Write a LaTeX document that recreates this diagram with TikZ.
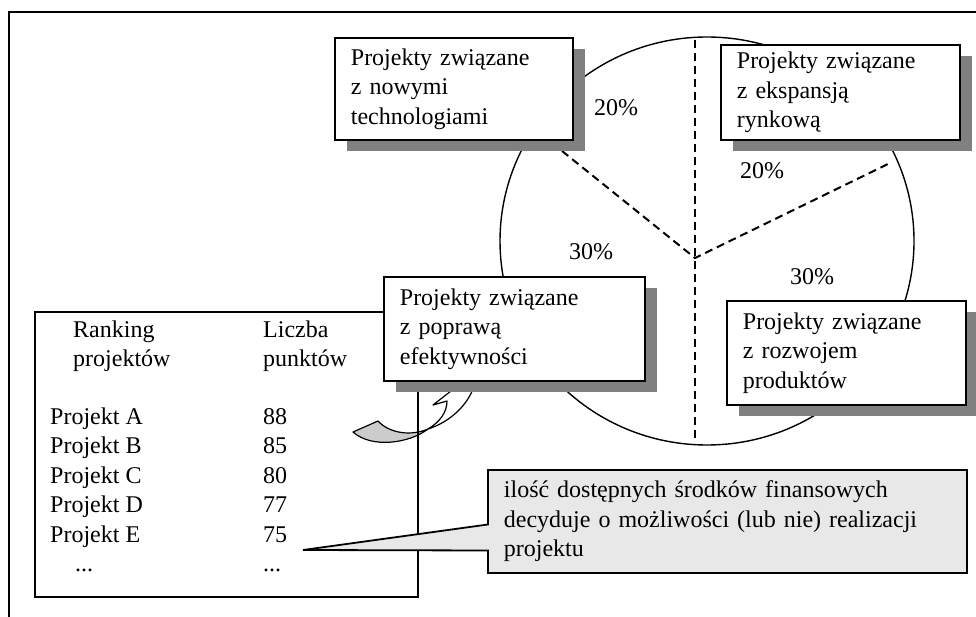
\documentclass[tikz,border=0pt]{standalone}
\usepackage{fontspec}
\setmainfont{Liberation Serif}
\usetikzlibrary{positioning,shadows,shapes.callouts}
\definecolor{cien}{RGB}{128,128,128}
\definecolor{tlo}{RGB}{232,232,232}
\definecolor{szary}{RGB}{204,204,204}

\begin{document}
\begin{tikzpicture}[x=1pt, y=-1pt,
  font=\fontsize{24}{29.5}\selectfont,
  ramka/.style={draw, line width=1.8pt, fill=white, anchor=north west,
                inner xsep=16pt, inner ysep=0pt, align=left,
                drop shadow={shadow xshift=12pt, shadow yshift=-11pt,
                             fill=cien, opacity=1}},
  procent/.style={inner sep=0pt},
  podzial/.style={line width=2pt, dash pattern=on 8pt off 5pt},
  wiersz/.style={anchor=base west, inner sep=0pt}]
  \useasboundingbox (0,0) rectangle (976,617);
  \draw[line width=2pt] (9,617) -- (9,12) -- (976,12);
  % kolo z podzialem
  \draw[line width=1.4pt] (707,241) ellipse [x radius=207, y radius=204];
  \coordinate (srodek) at (695,258);
  \coordinate (gora) at (695,40);
  \coordinate (dol) at (695,440);
  \coordinate (lewy) at (562,151);
  \coordinate (prawy) at (890,163);
  \draw[podzial] (gora) -- (srodek) -- (dol);
  \draw[podzial] (lewy) -- (srodek) -- (prawy);
  \node[procent] (p1) at (616,108) {20\%};
  \node[procent] (p2) at (762,171) {20\%};
  \node[procent] (p3) at (591,252) {30\%};
  \node[procent] (p4) at (812,277) {30\%};
  % zakrecona strzalka
  \draw[line width=1.2pt, fill=szary, line join=round]
    (353,432) -- (378,421) .. controls (390,434) and (412,436) .. (428,429)
    .. controls (410,443) and (372,449) .. (353,432) -- cycle;
  \draw[line width=1.2pt, fill=white, line join=round]
    (428,429) .. controls (440,422) and (447,412) .. (447,401)
    -- (433,405) -- (460,384) -- (486,382) -- (474,386)
    .. controls (468,405) and (450,422) .. (428,429) -- cycle;
  % ranking
  \node[draw, line width=1.8pt, minimum width=383pt, minimum height=285pt,
        anchor=north west, inner sep=0pt] (ranking) at (34,311) {};
  \node[wiersz] (rank1) at (73,337) {Ranking};
  \node[wiersz] (rank2) at (73,366) {projektów};
  \node[wiersz] (licz1) at (263,337) {Liczba};
  \node[wiersz] (licz2) at (263,366) {punktów};
  \foreach \p/\n [count=\i] in {A/88,B/85,C/80,D/77,E/75}
  {
    \node[wiersz] (proj\p) at (50,424+29.5*\i-29.5) {Projekt \p};
    \node[wiersz] (pkt\p) at (263,424+29.5*\i-29.5) {\n};
  }
  \node[wiersz] (kropki1) at (75,571) {...};
  \node[wiersz] (kropki2) at (263,571) {...};
  % rodzaje projektow
  \node[ramka, text width=206pt, minimum height=102pt] (nowe) at (334,37)
    {Projekty związane\\z nowymi\\technologiami};
  \node[ramka, text width=207pt, minimum height=95pt] (rynek) at (720,44)
    {Projekty związane\\z ekspansją\\rynkową};
  \node[ramka, text width=229pt, minimum height=104pt] (efekt) at (383,276)
    {Projekty związane\\z poprawą\\efektywności};
  \node[ramka, text width=207pt, minimum height=104pt] (produkt) at (726,300)
    {Projekty związane\\z rozwojem\\produktów};
  % uwaga
  \coordinate (wskaz) at (303,550);
  \node[rectangle callout, callout absolute pointer={(wskaz)},
        callout pointer width=26pt, draw, line width=1.8pt, fill=tlo,
        anchor=north west, text width=447pt, inner xsep=16pt, inner ysep=0pt,
        minimum height=103pt, align=left] (uwaga) at (487,469)
    {ilość dostępnych środków finansowych\\decyduje o możliwości (lub nie) realizacji\\projektu};
\end{tikzpicture}
\end{document}
